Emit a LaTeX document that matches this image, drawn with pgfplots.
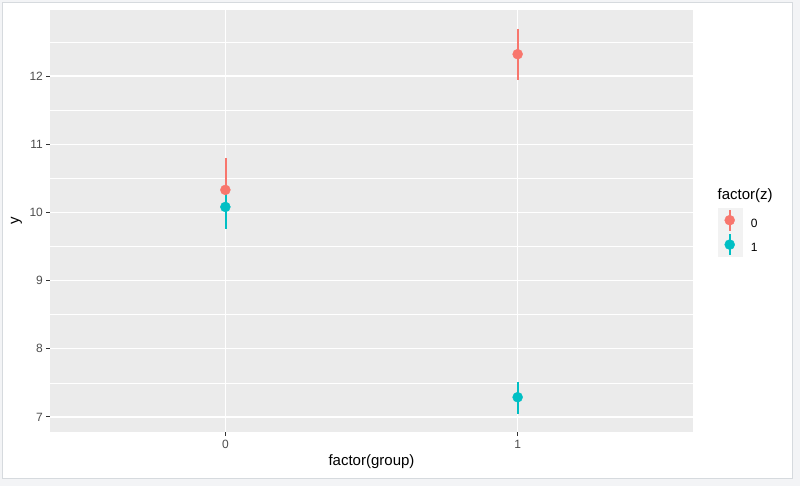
\documentclass[border=0pt]{standalone}
\usepackage{fontspec}
\setmainfont{Liberation Sans}
\usepackage{pgfplots}
\pgfplotsset{compat=1.18}

\definecolor{zred}{HTML}{F8766D}
\definecolor{zblue}{HTML}{00BFC4}
\definecolor{panelgrey}{HTML}{EBEBEB}
\definecolor{keygrey}{HTML}{F2F2F2}
\definecolor{ticktext}{HTML}{4D4D4D}
\definecolor{tickgrey}{HTML}{333333}
\definecolor{pagegrey}{HTML}{F3F4F6}
\definecolor{framegrey}{HTML}{D6DADE}

% group (0/1), mean y, lower and upper error
\pgfplotstableread{
g y lo hi
0 10.33 0.47 0.47
1 12.32 0.36 0.36
}\zzero
\pgfplotstableread{
g y lo hi
0 10.08 0.31 0.31
1 7.29 0.23 0.22
}\zone

\pgfplotsset{
  % range drawn as a thin filled strip
  rangebars/.style={forget plot, only marks, mark=none,
    error bars/y dir=both, error bars/y explicit,
    error bars/draw error bar/.code 2 args={
      \path ##1 ++(-0.6pt,0pt) coordinate (ea);
      \path ##2 ++(0.6pt,0pt) coordinate (eb);
      \fill[#1] (ea) rectangle (eb);
    }},
  rangekey/.style={legend image code/.code={
    \fill[keygrey] (-12pt,-8pt) rectangle (12pt,16pt);
    \fill[#1] (-0.6pt,-6pt) rectangle (0.6pt,14pt);
    \fill[#1] (0,4pt) circle (5pt);
  }},
}

\begin{document}
\begin{tikzpicture}[x=1pt,y=1pt]
  \useasboundingbox (0,0) rectangle (800,486);
  \fill[pagegrey] (0,0) rectangle (800,486);
  \filldraw[fill=white, draw=framegrey, line width=1pt] (2.5,7.5) rectangle (792,483.5);

  \begin{axis}[
    at={(50pt,54pt)}, anchor=south west,
    width=643pt, height=422pt, scale only axis,
    xmin=-0.6, xmax=1.6,
    ymin=6.78, ymax=12.968,
    axis background/.style={fill=panelgrey},
    axis line style={draw=none},
    xtick={0,1}, xticklabels={0,1},
    ytick={7,8,9,10,11,12},
    minor ytick={6.5,7.5,8.5,9.5,10.5,11.5,12.5},
    grid=both,
    major grid style={white, line width=1.1pt},
    minor grid style={white, line width=0.55pt},
    minor tick length=0pt,
    major tick length=3.7pt,
    tick align=outside,
    tick style={tickgrey, line width=1pt},
    xtick pos=bottom, ytick pos=left,
    ticklabel style={font=\fontsize{12}{14}\selectfont, text=ticktext, inner sep=0pt},
    xticklabel style={yshift=-4.5pt},
    yticklabel style={xshift=-3.2pt},
    /pgf/number format/assume math mode=true,
    xlabel={factor(group)},
    ylabel={y},
    label style={font=\fontsize{15}{17}\selectfont},
    xlabel style={at={(axis description cs:0.5,-0.071)}, anchor=center},
    ylabel style={at={(axis description cs:-0.052,0.5)}, anchor=center},
    clip=false,
    legend style={at={(axis description cs:1.0381,0.5308)}, anchor=north west,
      draw=none, fill=none, inner sep=0pt, outer sep=0pt,
      font=\fontsize{12}{14}\selectfont,
      row sep=0pt, column sep=9pt,
      nodes={inner sep=0pt}},
    legend cell align=left,
  ]
    % ranges first, then points on top (as in geom_pointrange)
    \addplot[rangebars=zred]
      table[x=g, y=y, y error plus=hi, y error minus=lo] {\zzero};
    \addplot[rangebars=zblue]
      table[x=g, y=y, y error plus=hi, y error minus=lo] {\zone};
    \addplot[zred, only marks, mark=*, mark size=5pt,
      mark options={draw=none, fill=zred}, rangekey=zred]
      table[x=g, y=y] {\zzero};
    \addplot[zblue, only marks, mark=*, mark size=5pt,
      mark options={draw=none, fill=zblue}, rangekey=zblue]
      table[x=g, y=y] {\zone};
    \legend{0,1}
    \node[anchor=south west, inner sep=0pt, font=\fontsize{15}{17}\selectfont]
      at (axis description cs:1.0381,0.5425) {factor(z)};
  \end{axis}
\end{tikzpicture}
\end{document}
